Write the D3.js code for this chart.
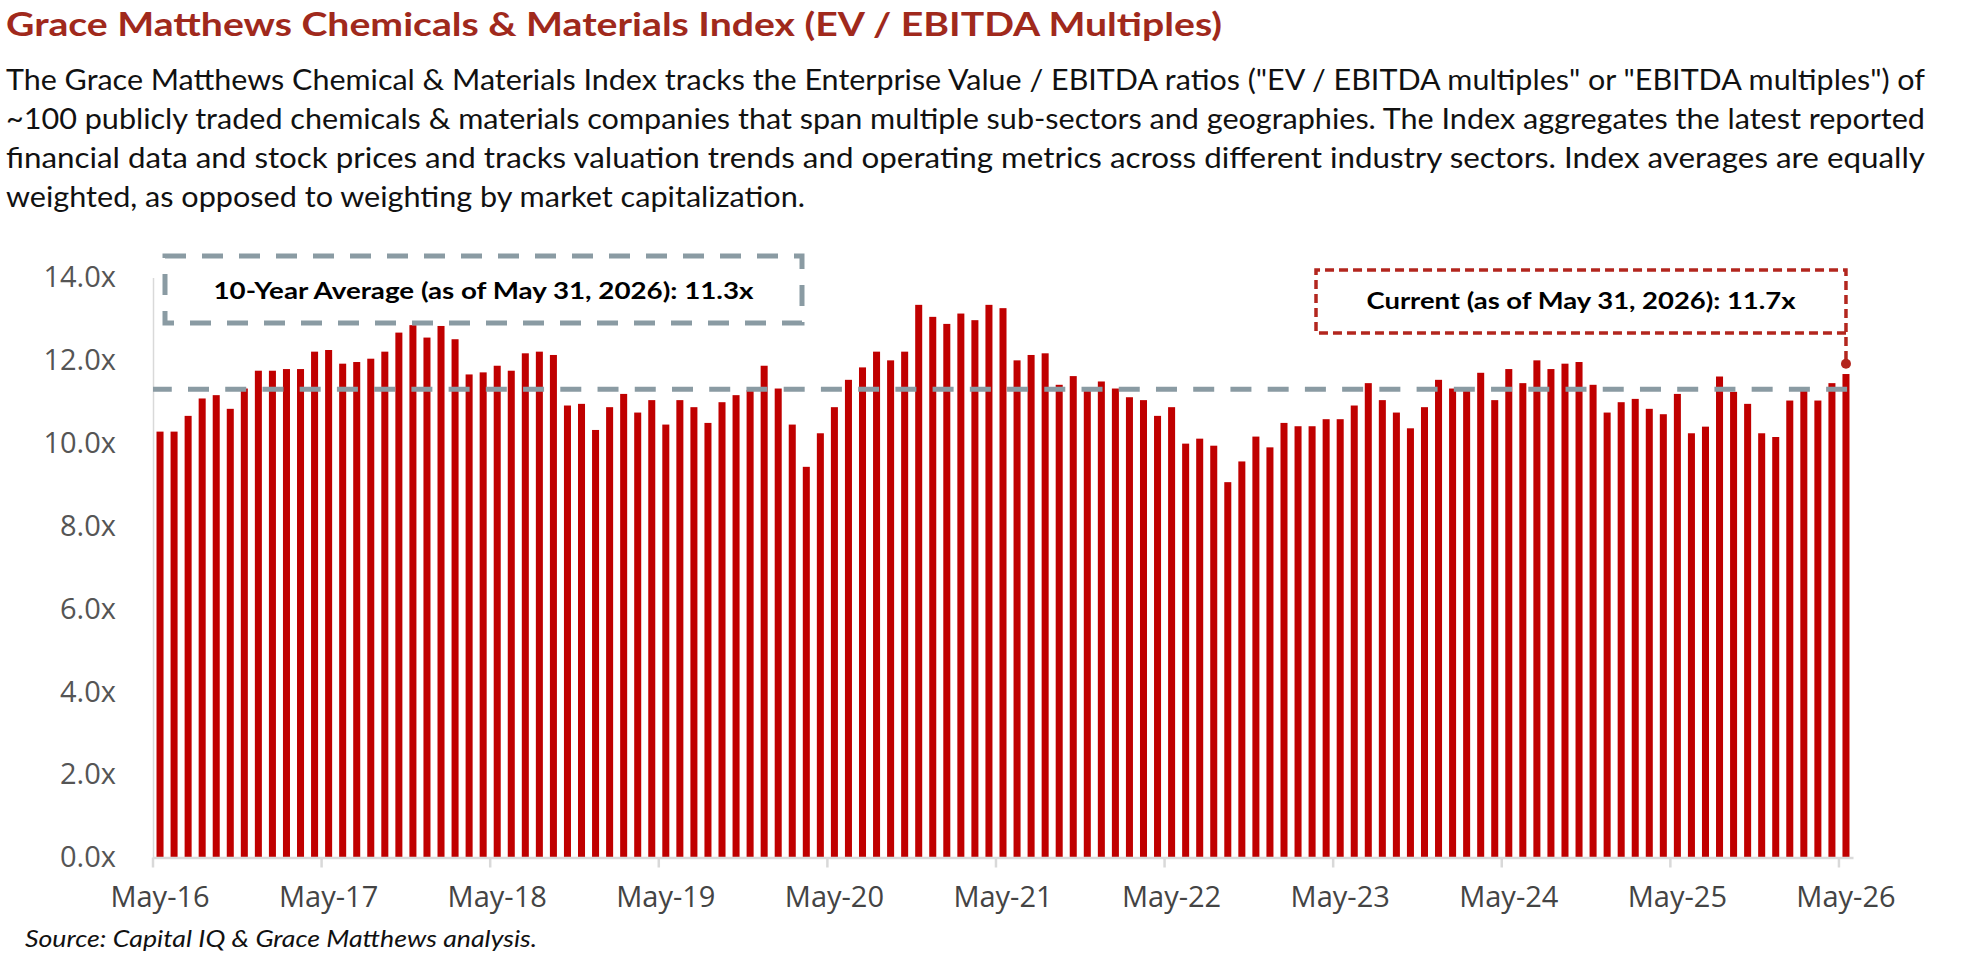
<!DOCTYPE html>
<html>
<head>
<meta charset="utf-8">
<script src="https://cdn.jsdelivr.net/npm/d3@7"></script>
<style>
  body { margin: 0; background: #fff; }
  svg { display: block; }
</style>
</head>
<body>
<div id="chart_container"></div>
<script>
// Monthly EV / EBITDA multiples, May-16 .. May-26
var months = d3.timeMonth.range(new Date(2016, 4, 1), new Date(2026, 5, 1));
var categories = months.map(d3.timeFormat("%b-%y"));

var multiples = [
  10.28, 10.28, 10.66, 11.08, 11.16, 10.83, 11.32, 11.75, 11.75, 11.79, 11.79, 12.21,
  12.25, 11.92, 11.96, 12.04, 12.21, 12.67, 12.85, 12.55, 12.83, 12.51, 11.66, 11.71,
  11.87, 11.75, 12.17, 12.21, 12.13, 10.91, 10.95, 10.32, 10.87, 11.19, 10.74, 11.04,
  10.45, 11.04, 10.87, 10.49, 10.99, 11.16, 11.28, 11.87, 11.32, 10.45, 9.43, 10.24,
  10.87, 11.53, 11.83, 12.21, 12.00, 12.21, 13.34, 13.05, 12.88, 13.13, 12.97, 13.34,
  13.26, 12.00, 12.13, 12.17, 11.41, 11.62, 11.28, 11.49, 11.32, 11.11, 11.04, 10.66,
  10.87, 9.99, 10.11, 9.94, 9.06, 9.56, 10.16, 9.90, 10.49, 10.41, 10.41, 10.58,
  10.58, 10.91, 11.45, 11.04, 10.74, 10.36, 10.87, 11.53, 11.32, 11.28, 11.70, 11.04,
  11.79, 11.45, 12.00, 11.79, 11.92, 11.96, 11.41, 10.74, 10.99, 11.07, 10.83, 10.70,
  11.19, 10.24, 10.40, 11.61, 11.24, 10.95, 10.24, 10.15, 11.03, 11.28, 11.03, 11.45,
  11.67
];

var tick_labels = ["May-16", "May-17", "May-18", "May-19", "May-20", "May-21",
                   "May-22", "May-23", "May-24", "May-25", "May-26"];
var y_ticks = [0, 2, 4, 6, 8, 10, 12, 14];

var ten_year_avg = 11.3;
var current_value = 11.7;

var title = "Grace Matthews Chemicals & Materials Index (EV / EBITDA Multiples)";
var intro_lines = [
  "The Grace Matthews Chemical & Materials Index tracks the Enterprise Value / EBITDA ratios (\"EV / EBITDA multiples\" or \"EBITDA multiples\") of",
  "~100 publicly traded chemicals & materials companies that span multiple sub-sectors and geographies. The Index aggregates the latest reported",
  "financial data and stock prices and tracks valuation trends and operating metrics across different industry sectors. Index averages are equally",
  "weighted, as opposed to weighting by market capitalization."
];
var avg_label = "10-Year Average (as of May 31, 2026): " + ten_year_avg.toFixed(1) + "x";
var current_label = "Current (as of May 31, 2026): " + current_value.toFixed(1) + "x";
var source = "Source: Capital IQ & Grace Matthews analysis.";

// Page dimensions
var width = 1962;
var height = 978;
var plot = {left: 153, right: 1853, top: 277.5, bottom: 857.5};

var svg = d3.select("#chart_container")
    .append("svg")
    .attr("width", width)
    .attr("height", height);

// Title + description
svg.append("text")
    .attr("x", 6)
    .attr("y", 36)
    .attr("textLength", 1216)
    .attr("lengthAdjust", "spacingAndGlyphs")
    .style("font-family", "Lato, 'Noto Sans', sans-serif")
    .style("font-weight", "bold")
    .style("font-size", "32px")
    .style("fill", "#a0291c")
    .text(title);

svg.append("g")
    .selectAll("text")
    .data(intro_lines)
    .enter()
    .append("text")
    .attr("x", 6)
    .attr("y", function(d, i) { return 90 + i * 38.9; })
    .attr("textLength", function(d, i) { return i < 3 ? 1919 : 799; })
    .attr("lengthAdjust", "spacingAndGlyphs")
    .style("font-family", "Lato, 'Noto Sans', sans-serif")
    .style("font-size", "28px")
    .style("fill", "#111")
    .text(function(d) { return d; });

// Scales
var x_scale = d3.scaleBand()
    .domain(categories)
    .range([plot.left, plot.right])
    .paddingInner(0.5)
    .paddingOuter(0.25);

var y_scale = d3.scaleLinear()
    .domain([0, 14])
    .range([plot.bottom, plot.top]);

// Bars
svg.append("g")
    .selectAll("rect")
    .data(multiples)
    .enter()
    .append("rect")
    .attr("x", function(d, i) { return x_scale(categories[i]); })
    .attr("y", function(d) { return y_scale(d); })
    .attr("width", x_scale.bandwidth())
    .attr("height", function(d) { return y_scale(0) - y_scale(d); })
    .style("fill", "#c00000");

// Axes
var y_axis = d3.axisLeft(y_scale)
    .tickValues(y_ticks)
    .tickFormat(function(d) { return d.toFixed(1) + "x"; })
    .tickSize(0)
    .tickPadding(37);

var gy = svg.append("g")
    .attr("transform", "translate(" + plot.left + ",0)")
    .call(y_axis);
gy.select(".domain").attr("stroke", "#d9d9d9").attr("stroke-width", 1.5);
gy.selectAll("text")
    .style("font-family", "'Open Sans', sans-serif")
    .style("font-size", "29px")
    .style("fill", "#555");

var x_axis = d3.axisBottom(x_scale)
    .tickValues(tick_labels)
    .tickSize(0)
    .tickPadding(29);

var gx = svg.append("g")
    .attr("transform", "translate(0," + plot.bottom + ")")
    .call(x_axis);
gx.select(".domain").attr("stroke", "#d9d9d9").attr("stroke-width", 2.5);
gx.selectAll("text")
    .style("font-family", "'Open Sans', sans-serif")
    .style("font-size", "29px")
    .style("fill", "#444");

// year tick marks sit on the band boundaries
var half_gap = x_scale.step() * x_scale.paddingInner() / 2;
gx.append("g")
    .selectAll("line")
    .data(tick_labels)
    .enter()
    .append("line")
    .attr("x1", function(d) { return x_scale(d) - half_gap; })
    .attr("x2", function(d) { return x_scale(d) - half_gap; })
    .attr("y1", 0)
    .attr("y2", 10)
    .attr("stroke", "#d9d9d9")
    .attr("stroke-width", 2.5);

// 10-year average line (drawn over the bars)
svg.append("line")
    .attr("x1", plot.left)
    .attr("x2", x_scale(categories[categories.length - 1]) + x_scale.bandwidth())
    .attr("y1", y_scale(ten_year_avg))
    .attr("y2", y_scale(ten_year_avg))
    .attr("stroke", "#8a9ba3")
    .attr("stroke-width", 5)
    .attr("stroke-dasharray", "21,16.23")
    .attr("stroke-dashoffset", 2.23);

// 10-year average callout
svg.append("rect")
    .attr("x", 165)
    .attr("y", 256)
    .attr("width", 637)
    .attr("height", 67)
    .attr("fill", "none")
    .attr("stroke", "#8a9ba3")
    .attr("stroke-width", 5)
    .attr("stroke-dasharray", "21,16");

svg.append("text")
    .attr("x", 483.5)
    .attr("y", 299)
    .attr("text-anchor", "middle")
    .attr("textLength", 540)
    .attr("lengthAdjust", "spacingAndGlyphs")
    .style("font-family", "Lato, 'Noto Sans', sans-serif")
    .style("font-weight", "bold")
    .style("font-size", "23px")
    .style("fill", "#000")
    .text(avg_label);

// Current callout + leader to the last bar
var last = categories[categories.length - 1];
var dot_x = x_scale(last) + x_scale.bandwidth() / 2;
var dot_y = y_scale(current_value) - 9;
var box = {left: 1316, top: 270, bottom: 333};

svg.append("path")
    .attr("d", "M" + dot_x + "," + box.bottom + " H" + box.left + " V" + box.top + " H" + dot_x + " V" + (dot_y - 4))
    .attr("fill", "none")
    .attr("stroke", "#b3261e")
    .attr("stroke-width", 3.5)
    .attr("stroke-dasharray", "9,5");

svg.append("circle")
    .attr("cx", dot_x)
    .attr("cy", dot_y)
    .attr("r", 5)
    .attr("fill", "#b3261e");

svg.append("text")
    .attr("x", (box.left + dot_x) / 2)
    .attr("y", 309)
    .attr("text-anchor", "middle")
    .attr("textLength", 429)
    .attr("lengthAdjust", "spacingAndGlyphs")
    .style("font-family", "Lato, 'Noto Sans', sans-serif")
    .style("font-weight", "bold")
    .style("font-size", "23px")
    .style("fill", "#000")
    .text(current_label);

// Source note
svg.append("text")
    .attr("x", 25)
    .attr("y", 947)
    .attr("textLength", 512)
    .attr("lengthAdjust", "spacingAndGlyphs")
    .style("font-family", "Lato, 'Noto Sans', sans-serif")
    .style("font-style", "italic")
    .style("font-size", "24px")
    .style("fill", "#111")
    .text(source);
</script>
</body>
</html>
